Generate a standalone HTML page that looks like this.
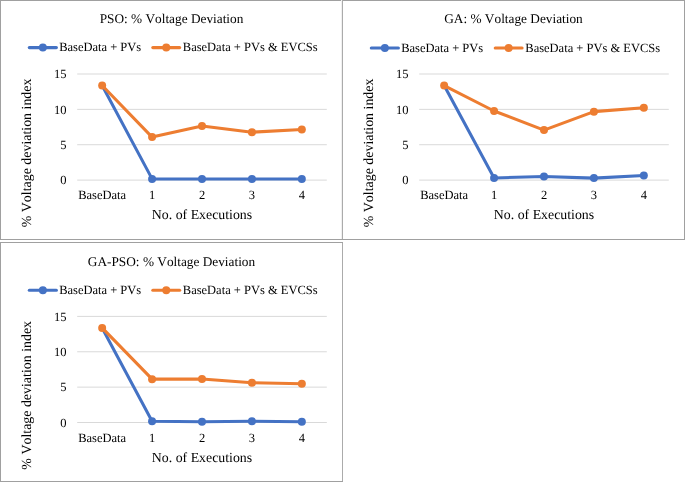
<!DOCTYPE html>
<html><head><meta charset="utf-8"><style>
html,body{margin:0;padding:0;background:#fff;}
svg{display:block;filter:blur(0.3px);}
text{font-family:'Liberation Serif', serif;fill:#000;text-rendering:geometricPrecision;font-kerning:none;}
</style></head><body>
<svg width="685" height="482" viewBox="0 0 685 482">
<rect width="685" height="482" fill="#fff"/>

<path d="M0.5 0 V240 M0 0.5 H685 M684.5 0 V240 M0 239.5 H685 M0.5 242 V482 M0 242.5 H343 M0 481.5 H343" stroke="#A0A0A0" stroke-width="1" fill="none"/>
<path d="M342.5 0 V239 M342.5 243 V481" stroke="#ABABAB" stroke-width="1" fill="none"/>
<path d="M341.5 0 V239" stroke="#F0F0F0" stroke-width="1" fill="none"/>

<g transform="translate(0,0)">
<text x="171.5" y="22.9" font-size="13.3" text-anchor="middle">PSO: % Voltage Deviation</text>
<line x1="29.3" y1="47.6" x2="56.4" y2="47.6" stroke="#4472C4" stroke-width="3.05" stroke-linecap="round"/>
<circle cx="42.85" cy="47.6" r="4.0" fill="#4472C4"/>
<text x="59.15" y="51.35" font-size="12.5">BaseData + PVs</text>
<line x1="152.8" y1="47.6" x2="179.7" y2="47.6" stroke="#ED7D31" stroke-width="3.05" stroke-linecap="round"/>
<circle cx="166.25" cy="47.6" r="4.0" fill="#ED7D31"/>
<text x="182.8" y="51.35" font-size="12.5">BaseData + PVs &amp; EVCSs</text>
<line x1="77.2" y1="74.00" x2="326.8" y2="74.00" stroke="#D9D9D9" stroke-width="1"/>
<text x="66.6" y="78.30" font-size="12.5" text-anchor="end">15</text>
<line x1="77.2" y1="109.37" x2="326.8" y2="109.37" stroke="#D9D9D9" stroke-width="1"/>
<text x="66.6" y="113.67" font-size="12.5" text-anchor="end">10</text>
<line x1="77.2" y1="144.73" x2="326.8" y2="144.73" stroke="#D9D9D9" stroke-width="1"/>
<text x="66.6" y="149.03" font-size="12.5" text-anchor="end">5</text>
<line x1="77.2" y1="180.10" x2="326.8" y2="180.10" stroke="#D9D9D9" stroke-width="1"/>
<text x="66.6" y="184.40" font-size="12.5" text-anchor="end">0</text>
<text x="102.16" y="198.8" font-size="12.5" text-anchor="middle">BaseData</text>
<text x="152.08" y="198.8" font-size="12.5" text-anchor="middle">1</text>
<text x="202.00" y="198.8" font-size="12.5" text-anchor="middle">2</text>
<text x="251.92" y="198.8" font-size="12.5" text-anchor="middle">3</text>
<text x="301.84" y="198.8" font-size="12.5" text-anchor="middle">4</text>
<text x="202.00" y="218.8" font-size="13.85" text-anchor="middle">No. of Executions</text>
<text transform="translate(30.8,152.9) rotate(-90)" x="0" y="0" font-size="13.92" text-anchor="middle">% Voltage deviation index</text>
<polyline points="102.16,85.53 152.08,178.90 202.00,179.04 251.92,179.04 301.84,179.04" fill="none" stroke="#4472C4" stroke-width="3.05" stroke-linejoin="round" stroke-linecap="round"/>
<circle cx="152.08" cy="178.90" r="4.0" fill="#4472C4"/>
<circle cx="202.00" cy="179.04" r="4.0" fill="#4472C4"/>
<circle cx="251.92" cy="179.04" r="4.0" fill="#4472C4"/>
<circle cx="301.84" cy="179.04" r="4.0" fill="#4472C4"/>
<polyline points="102.16,85.53 152.08,137.09 202.00,125.99 251.92,132.21 301.84,129.53" fill="none" stroke="#ED7D31" stroke-width="3.05" stroke-linejoin="round" stroke-linecap="round"/>
<circle cx="102.16" cy="85.53" r="4.0" fill="#ED7D31"/>
<circle cx="152.08" cy="137.09" r="4.0" fill="#ED7D31"/>
<circle cx="202.00" cy="125.99" r="4.0" fill="#ED7D31"/>
<circle cx="251.92" cy="132.21" r="4.0" fill="#ED7D31"/>
<circle cx="301.84" cy="129.53" r="4.0" fill="#ED7D31"/>
</g>
<g transform="translate(342,0)">
<text x="171.5" y="22.9" font-size="13.3" text-anchor="middle">GA: % Voltage Deviation</text>
<line x1="29.3" y1="47.9" x2="56.4" y2="47.9" stroke="#4472C4" stroke-width="3.05" stroke-linecap="round"/>
<circle cx="42.85" cy="47.9" r="4.0" fill="#4472C4"/>
<text x="59.15" y="52.0" font-size="12.5">BaseData + PVs</text>
<line x1="153.2" y1="47.9" x2="180.1" y2="47.9" stroke="#ED7D31" stroke-width="3.05" stroke-linecap="round"/>
<circle cx="166.64999999999998" cy="47.9" r="4.0" fill="#ED7D31"/>
<text x="183.3" y="52.0" font-size="12.5">BaseData + PVs &amp; EVCSs</text>
<line x1="77.2" y1="74.00" x2="326.8" y2="74.00" stroke="#D9D9D9" stroke-width="1"/>
<text x="66.6" y="78.30" font-size="12.5" text-anchor="end">15</text>
<line x1="77.2" y1="109.37" x2="326.8" y2="109.37" stroke="#D9D9D9" stroke-width="1"/>
<text x="66.6" y="113.67" font-size="12.5" text-anchor="end">10</text>
<line x1="77.2" y1="144.73" x2="326.8" y2="144.73" stroke="#D9D9D9" stroke-width="1"/>
<text x="66.6" y="149.03" font-size="12.5" text-anchor="end">5</text>
<line x1="77.2" y1="180.10" x2="326.8" y2="180.10" stroke="#D9D9D9" stroke-width="1"/>
<text x="66.6" y="184.40" font-size="12.5" text-anchor="end">0</text>
<text x="102.16" y="198.8" font-size="12.5" text-anchor="middle">BaseData</text>
<text x="152.08" y="198.8" font-size="12.5" text-anchor="middle">1</text>
<text x="202.00" y="198.8" font-size="12.5" text-anchor="middle">2</text>
<text x="251.92" y="198.8" font-size="12.5" text-anchor="middle">3</text>
<text x="301.84" y="198.8" font-size="12.5" text-anchor="middle">4</text>
<text x="202.00" y="218.8" font-size="13.85" text-anchor="middle">No. of Executions</text>
<text transform="translate(30.8,152.9) rotate(-90)" x="0" y="0" font-size="13.92" text-anchor="middle">% Voltage deviation index</text>
<polyline points="102.16,85.53 152.08,177.91 202.00,176.49 251.92,178.12 301.84,175.57" fill="none" stroke="#4472C4" stroke-width="3.05" stroke-linejoin="round" stroke-linecap="round"/>
<circle cx="152.08" cy="177.91" r="4.0" fill="#4472C4"/>
<circle cx="202.00" cy="176.49" r="4.0" fill="#4472C4"/>
<circle cx="251.92" cy="178.12" r="4.0" fill="#4472C4"/>
<circle cx="301.84" cy="175.57" r="4.0" fill="#4472C4"/>
<polyline points="102.16,85.53 152.08,110.99 202.00,130.09 251.92,111.63 301.84,107.74" fill="none" stroke="#ED7D31" stroke-width="3.05" stroke-linejoin="round" stroke-linecap="round"/>
<circle cx="102.16" cy="85.53" r="4.0" fill="#ED7D31"/>
<circle cx="152.08" cy="110.99" r="4.0" fill="#ED7D31"/>
<circle cx="202.00" cy="130.09" r="4.0" fill="#ED7D31"/>
<circle cx="251.92" cy="111.63" r="4.0" fill="#ED7D31"/>
<circle cx="301.84" cy="107.74" r="4.0" fill="#ED7D31"/>
</g>
<g transform="translate(0,242.4)">
<text x="171.5" y="23.8" font-size="13.3" text-anchor="middle">GA-PSO: % Voltage Deviation</text>
<line x1="29.3" y1="47.8" x2="56.4" y2="47.8" stroke="#4472C4" stroke-width="3.05" stroke-linecap="round"/>
<circle cx="42.85" cy="47.8" r="4.0" fill="#4472C4"/>
<text x="59.15" y="51.35" font-size="12.5">BaseData + PVs</text>
<line x1="152.8" y1="47.8" x2="179.7" y2="47.8" stroke="#ED7D31" stroke-width="3.05" stroke-linecap="round"/>
<circle cx="166.25" cy="47.8" r="4.0" fill="#ED7D31"/>
<text x="182.8" y="51.35" font-size="12.5">BaseData + PVs &amp; EVCSs</text>
<line x1="77.2" y1="74.00" x2="326.8" y2="74.00" stroke="#D9D9D9" stroke-width="1"/>
<text x="66.6" y="78.30" font-size="12.5" text-anchor="end">15</text>
<line x1="77.2" y1="109.37" x2="326.8" y2="109.37" stroke="#D9D9D9" stroke-width="1"/>
<text x="66.6" y="113.67" font-size="12.5" text-anchor="end">10</text>
<line x1="77.2" y1="144.73" x2="326.8" y2="144.73" stroke="#D9D9D9" stroke-width="1"/>
<text x="66.6" y="149.03" font-size="12.5" text-anchor="end">5</text>
<line x1="77.2" y1="180.10" x2="326.8" y2="180.10" stroke="#D9D9D9" stroke-width="1"/>
<text x="66.6" y="184.40" font-size="12.5" text-anchor="end">0</text>
<text x="102.16" y="199.2" font-size="12.5" text-anchor="middle">BaseData</text>
<text x="152.08" y="199.2" font-size="12.5" text-anchor="middle">1</text>
<text x="202.00" y="199.2" font-size="12.5" text-anchor="middle">2</text>
<text x="251.92" y="199.2" font-size="12.5" text-anchor="middle">3</text>
<text x="301.84" y="199.2" font-size="12.5" text-anchor="middle">4</text>
<text x="202.00" y="219.5" font-size="13.85" text-anchor="middle">No. of Executions</text>
<text transform="translate(30.8,152.9) rotate(-90)" x="0" y="0" font-size="13.92" text-anchor="middle">% Voltage deviation index</text>
<polyline points="102.16,85.53 152.08,178.90 202.00,179.25 251.92,178.90 301.84,179.39" fill="none" stroke="#4472C4" stroke-width="3.05" stroke-linejoin="round" stroke-linecap="round"/>
<circle cx="152.08" cy="178.90" r="4.0" fill="#4472C4"/>
<circle cx="202.00" cy="179.25" r="4.0" fill="#4472C4"/>
<circle cx="251.92" cy="178.90" r="4.0" fill="#4472C4"/>
<circle cx="301.84" cy="179.39" r="4.0" fill="#4472C4"/>
<polyline points="102.16,85.53 152.08,136.74 202.00,136.60 251.92,140.28 301.84,141.27" fill="none" stroke="#ED7D31" stroke-width="3.05" stroke-linejoin="round" stroke-linecap="round"/>
<circle cx="102.16" cy="85.53" r="4.0" fill="#ED7D31"/>
<circle cx="152.08" cy="136.74" r="4.0" fill="#ED7D31"/>
<circle cx="202.00" cy="136.60" r="4.0" fill="#ED7D31"/>
<circle cx="251.92" cy="140.28" r="4.0" fill="#ED7D31"/>
<circle cx="301.84" cy="141.27" r="4.0" fill="#ED7D31"/>
</g>
</svg>
</body></html>
